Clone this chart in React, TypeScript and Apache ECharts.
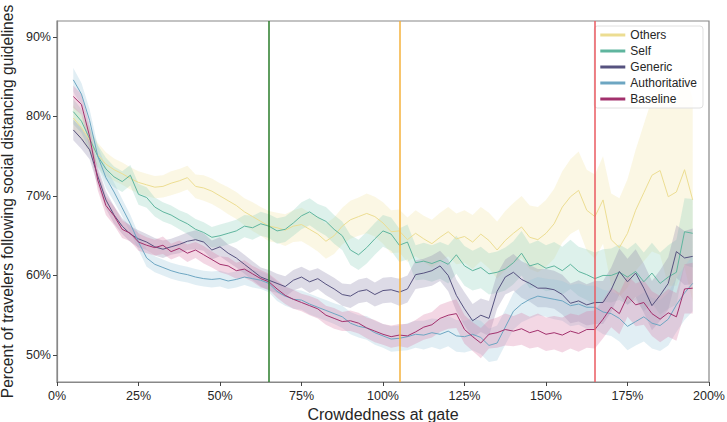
import React, { useEffect, useRef } from "react";
import * as echarts from "echarts";

const xs = [5, 7.5, 10, 12.5, 15, 17.5, 20, 22.5, 25, 27.5, 30, 32.5, 35, 37.5, 40, 42.5, 45, 47.5, 50, 52.5, 55, 57.5, 60, 62.5, 65, 67.5, 70, 72.5, 75, 77.5, 80, 82.5, 85, 87.5, 90, 92.5, 95, 97.5, 100, 102.5, 105, 107.5, 110, 112.5, 115, 117.5, 120, 122.5, 125, 127.5, 130, 132.5, 135, 137.5, 140, 142.5, 145, 147.5, 150, 152.5, 155, 157.5, 160, 162.5, 165, 167.5, 170, 172.5, 175, 177.5, 180, 182.5, 185, 187.5, 190, 192.5, 195];

const othersVals = [79.8, 78.6, 77, 75.2, 74, 73.3, 72.8, 72.2, 71.7, 71.4, 71.1, 71.2, 71.6, 71.9, 72.3, 71.2, 71, 70.6, 70, 69.4, 68.8, 68, 67.4, 66.8, 66.2, 66, 65.7, 66.2, 66.4, 65.8, 65.2, 64.3, 65, 66.2, 67, 67.4, 67.8, 67.4, 66.6, 65.5, 65.6, 64.5, 65.3, 64.6, 64, 64.8, 65.5, 64.6, 64.9, 64.2, 65.2, 64.4, 63.2, 64.4, 65.3, 66.1, 64.8, 64.5, 65.3, 66.5, 68.6, 69.9, 70.7, 68.2, 67.4, 69.5, 64.5, 63.5, 65.3, 68.2, 70.4, 72.6, 73.2, 69.9, 70.5, 73.3, 69.5];
const selfVals = [80.6, 79.4, 77.2, 75, 73.4, 72.4, 71.8, 72.6, 70.2, 69.8, 68.6, 68, 67.6, 67, 66.5, 65.8, 65.4, 64.8, 65, 65.3, 65.6, 66.2, 66, 66.5, 66.2, 65.6, 65.8, 66.6, 67.5, 68, 67.3, 66.8, 65.8, 65, 63.2, 62.6, 63.5, 64.6, 65.6, 65.2, 63.8, 64.2, 61.6, 61.8, 61.5, 61.9, 61.4, 62.6, 61.2, 60.6, 61, 60.2, 60.4, 60.8, 61.6, 62.8, 61.2, 61.5, 60.9, 61.2, 60.6, 61.4, 60.5, 60.1, 59.6, 60, 60, 60.4, 59.8, 60.5, 59.2, 60.3, 59, 59.8, 60.4, 65.5, 65.3];
const genericVals = [78.3, 77.2, 75.8, 72.5, 69.5, 67.6, 66.2, 65.2, 64.6, 64.2, 63.6, 63.3, 63.6, 63.9, 64.3, 64.5, 64.2, 63.2, 63.6, 62.8, 62.2, 61.4, 60.6, 59.8, 59.4, 59, 58.6, 59.4, 59.8, 59.2, 59.6, 58.9, 58.3, 57.6, 57.4, 58, 58.2, 57.6, 58.1, 58.2, 57.9, 58.3, 60.1, 60.3, 60.6, 61.2, 60, 57.5, 55.8, 54.3, 55, 54.6, 58, 59.8, 60.4, 59.5, 59, 58.4, 58.4, 58.2, 57.6, 56.5, 56.8, 56.3, 56.6, 56.6, 58.2, 60.5, 59.2, 60.3, 58.4, 56.2, 57.5, 59, 63, 62.2, 62.4];
const authVals = [84.6, 82.8, 79.5, 75, 72.3, 70.5, 68.5, 66.5, 64.2, 62.2, 61.4, 61, 60.6, 60.3, 60.1, 59.8, 59.6, 59.5, 59.6, 59.3, 59.5, 59.8, 59.6, 59.4, 59, 58, 57.4, 57, 56.9, 56.4, 56, 55.6, 55.2, 54.8, 54, 53.6, 53.4, 52.8, 52.4, 52, 52.1, 52.3, 52.6, 52.5, 52.8, 52.6, 53, 52.4, 52.3, 52.6, 52.2, 51.2, 51.5, 53.5, 55.5, 56.4, 57, 57.4, 57.2, 57, 56.8, 56.2, 56.4, 56, 56, 55.4, 55.2, 54.6, 53.6, 54.2, 54.8, 54, 53.7, 54.5, 56.3, 57.8, 59];
const baselineVals = [82.5, 81.5, 77.5, 72, 68.8, 67.5, 65.8, 65.3, 64.2, 63.8, 63.5, 63.8, 63, 63.4, 62.8, 63.2, 62.6, 62, 61.4, 61.2, 60.6, 60.8, 60.2, 59.6, 59.2, 58.3, 57.5, 57, 56.6, 56.2, 55.8, 55, 54.6, 54.2, 54.3, 54, 53.4, 53, 52.6, 52.3, 52.5, 52.4, 52.9, 53.5, 53.8, 54.6, 55, 55.2, 53.2, 52.3, 51.5, 52.6, 52.8, 53.2, 53, 53.3, 52.8, 53.1, 52.6, 52.8, 52.5, 53, 52.7, 53.2, 53.2, 54.5, 56, 55.2, 57.4, 56.3, 56.6, 55.2, 54.5, 55.3, 54.8, 58.3, 58.4];

const othersHw = [1.6, 1.6, 1.5, 1.5, 1.5, 1.4, 1.4, 1.4, 1.4, 1.4, 1.4, 1.4, 1.5, 1.5, 1.5, 1.5, 1.6, 1.6, 1.6, 1.7, 1.7, 1.7, 1.8, 1.8, 1.9, 1.9, 2.0, 2.0, 2.1, 2.1, 2.2, 2.2, 2.3, 2.3, 2.4, 2.4, 2.5, 2.5, 2.6, 2.7, 2.7, 2.8, 2.9, 2.9, 3.0, 3.1, 3.1, 3.2, 3.3, 3.4, 3.4, 3.5, 3.6, 3.7, 3.8, 3.9, 4.0, 4.1, 4.2, 4.4, 4.5, 4.7, 4.9, 5.1, 5.3, 5.5, 5.8, 6.2, 6.8, 7.6, 8.6, 9.6, 10.6, 11.2, 11.8, 12.3, 12.8];
const selfHw = [1.6, 1.5, 1.5, 1.4, 1.4, 1.3, 1.3, 1.3, 1.3, 1.3, 1.2, 1.2, 1.2, 1.2, 1.3, 1.3, 1.3, 1.3, 1.4, 1.4, 1.4, 1.4, 1.5, 1.5, 1.5, 1.6, 1.6, 1.6, 1.7, 1.7, 1.7, 1.8, 1.8, 1.8, 1.9, 1.9, 2.0, 2.0, 2.0, 2.1, 2.1, 2.2, 2.2, 2.3, 2.3, 2.3, 2.4, 2.4, 2.5, 2.5, 2.6, 2.6, 2.6, 2.7, 2.7, 2.8, 2.8, 2.9, 2.9, 3.0, 3.0, 3.1, 3.1, 3.2, 3.3, 3.3, 3.4, 3.5, 3.5, 3.6, 3.7, 3.8, 3.9, 4.0, 4.1, 4.2, 4.3];
const genericHw = [1.3, 1.3, 1.2, 1.2, 1.1, 1.1, 1.0, 1.0, 1.1, 1.0, 1.1, 1.1, 1.0, 1.1, 1.1, 1.2, 1.1, 1.2, 1.2, 1.1, 1.2, 1.2, 1.2, 1.2, 1.3, 1.2, 1.3, 1.3, 1.3, 1.4, 1.3, 1.4, 1.4, 1.4, 1.5, 1.5, 1.5, 1.5, 1.6, 1.6, 1.7, 1.7, 1.8, 1.8, 1.9, 1.9, 2.0, 2.0, 2.1, 2.1, 2.1, 2.2, 2.2, 2.2, 2.3, 2.3, 2.3, 2.4, 2.4, 2.4, 2.5, 2.5, 2.6, 2.6, 2.7, 2.7, 2.8, 2.9, 2.9, 3.0, 3.1, 3.1, 3.2, 3.3, 3.3, 3.4, 3.5];
const authHw = [1.5, 1.4, 1.4, 1.3, 1.3, 1.2, 1.1, 1.1, 1.0, 1.1, 1.0, 1.0, 1.0, 1.0, 1.0, 1.0, 1.0, 1.0, 1.0, 1.0, 1.0, 1.0, 1.1, 1.1, 1.1, 1.2, 1.2, 1.2, 1.2, 1.3, 1.3, 1.3, 1.3, 1.4, 1.4, 1.4, 1.5, 1.5, 1.5, 1.6, 1.6, 1.7, 1.7, 1.8, 1.8, 1.9, 1.9, 2.0, 2.0, 2.0, 2.1, 2.1, 2.2, 2.2, 2.3, 2.3, 2.4, 2.4, 2.4, 2.5, 2.5, 2.6, 2.6, 2.7, 2.7, 2.8, 2.8, 2.9, 3.0, 3.0, 3.1, 3.2, 3.2, 3.3, 3.4, 3.4, 3.5];
const baselineHw = [1.4, 1.3, 1.4, 1.3, 1.2, 1.2, 1.1, 1.0, 1.1, 1.0, 1.0, 1.1, 1.0, 1.0, 1.1, 1.0, 1.1, 1.0, 1.0, 1.1, 1.0, 1.1, 1.0, 1.1, 1.0, 1.1, 1.1, 1.2, 1.1, 1.2, 1.2, 1.2, 1.3, 1.2, 1.3, 1.3, 1.3, 1.4, 1.3, 1.4, 1.4, 1.5, 1.5, 1.6, 1.6, 1.7, 1.7, 1.8, 1.8, 1.8, 1.9, 1.8, 1.9, 2.0, 1.9, 2.0, 2.0, 2.1, 2.1, 2.1, 2.2, 2.2, 2.3, 2.3, 2.4, 2.4, 2.5, 2.6, 2.6, 2.7, 2.8, 2.8, 2.9, 3.0, 3.0, 3.1, 3.2];

const seriesNames = ["Others", "Self", "Generic", "Authoritative", "Baseline"];
const lineColors = ["#ecdd92", "#5fb59e", "#56527f", "#6da6c2", "#a2306c"];
const bandColors = ["#f2e6a6", "#8fd0bd", "#8d89ad", "#9cc6db", "#d77aa6"];
const bandOpacity = [0.3, 0.3, 0.3, 0.3, 0.3];
const allVals = [othersVals, selfVals, genericVals, authVals, baselineVals];
const allHw = [othersHw, selfHw, genericHw, authHw, baselineHw];

const yTicks = [50, 60, 70, 80, 90];
const refLines = [65, 105, 165];
const refColors = ["#2a7d2a", "#f4b23c", "#ea5a60"];

const FONT = "Liberation Sans, Arial, sans-serif";

export default function App() {
  const ref = useRef<HTMLDivElement>(null);
  useEffect(() => {
    document.body.style.margin = "0";
    const chart = echarts.init(ref.current!, null, { renderer: "svg" });
    const series: any[] = [];
    seriesNames.forEach((name, k) => {
      const v = allVals[k];
      const hw = allHw[k];
      const bandData = xs.map((x, i) => [x, v[i] - hw[i], v[i] + hw[i]]);
      series.push({
        type: "custom",
        name: name + " band",
        data: bandData,
        encode: { x: 0, y: [1, 2] },
        silent: true,
        z: 1,
        clip: true,
        renderItem: (params: any, api: any) => {
          if (params.dataIndex !== 0) return null;
          const upper = bandData.map((d) => api.coord([d[0], d[2]]));
          const lower = bandData.map((d) => api.coord([d[0], d[1]])).reverse();
          return {
            type: "polygon",
            shape: { points: upper.concat(lower) },
            style: { fill: bandColors[k], opacity: bandOpacity[k] },
          };
        },
      });
    });
    seriesNames.forEach((name, k) => {
      const v = allVals[k];
      const s: any = {
        type: "line",
        name,
        data: xs.map((x, i) => [x, v[i]]),
        symbol: "none",
        color: lineColors[k],
        lineStyle: { width: 1, color: lineColors[k] },
        z: 3,
      };
      if (k === 0) {
        s.markLine = {
          silent: true,
          symbol: ["none", "none"],
          label: { show: false },
          animation: false,
          z: 4,
          data: refLines.map((x, j) => ({
            xAxis: x,
            lineStyle: { color: refColors[j], width: 1.5, type: "solid", opacity: 1 },
          })),
        };
      }
      series.push(s);
    });

    chart.setOption({
      animation: false,
      textStyle: { fontFamily: FONT },
      grid: {
        left: 57,
        right: 18,
        top: 21,
        bottom: 40,
        show: true,
        borderColor: "#888",
        borderWidth: 1.2,
        outerBoundsMode: "none",
        containLabel: false,
      },
      legend: {
        data: seriesNames,
        orient: "vertical",
        right: 24,
        top: 26,
        itemWidth: 25,
        itemHeight: 3,
        itemGap: 4,
        icon: "rect",
        padding: [3, 6, 3, 6],
        borderColor: "#e0e0e0",
        borderWidth: 1,
        borderRadius: 3,
        backgroundColor: "rgba(255,255,255,0.85)",
        textStyle: { fontSize: 12, color: "#262626", fontFamily: FONT },
      },
      xAxis: {
        type: "value",
        min: 0,
        max: 200,
        interval: 25,
        name: "Crowdedness at gate",
        nameLocation: "middle",
        nameGap: 20,
        nameTextStyle: { fontSize: 16, color: "#262626" },
        axisLine: { show: true, lineStyle: { color: "#888", width: 1.2 } },
        axisTick: { show: true, length: 4, lineStyle: { color: "#444" } },
        axisLabel: { fontSize: 12.5, color: "#262626", formatter: (v: number) => v + "%", margin: 7 },
        splitLine: { show: false },
      },
      yAxis: {
        type: "value",
        min: 46.6,
        max: 92,
        name: "Percent of travelers following social distancing guidelines",
        nameLocation: "middle",
        nameGap: 37,
        nameTextStyle: { fontSize: 15.6, color: "#262626" },
        axisLine: { show: true, lineStyle: { color: "#888", width: 1.2 } },
        axisTick: { show: true, length: 4, lineStyle: { color: "#444" }, customValues: yTicks },
        axisLabel: { fontSize: 12.5, color: "#262626", formatter: (v: number) => v + "%", customValues: yTicks, margin: 6 },
        splitLine: { show: false },
      },
      series,
    });
    return () => chart.dispose();
  }, []);
  return <div ref={ref} style={{ width: 727, height: 422 }} />;
}
